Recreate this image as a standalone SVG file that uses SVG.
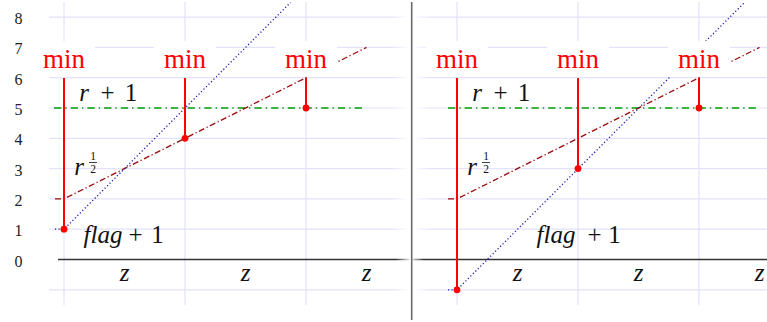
<svg xmlns="http://www.w3.org/2000/svg" width="767" height="322" viewBox="0 0 767 322">
<style>
.grid{stroke-width:1.2;fill:none}
.vg{stroke:#e2e2fb;stroke-width:1.2}
.ax{stroke-width:1.3;fill:none}
.red{stroke:#ff0000;stroke-width:2;fill:none}
.dot{fill:#ff0000}
.blue{stroke:#1a1ab8;stroke-width:1.3;stroke-dasharray:1.2 2.3;fill:none}
.dr{stroke:#9a0a0a;stroke-width:1.3;stroke-dasharray:6 2.5 1.3 2.5;fill:none}
.green{stroke:#00a000;stroke-width:1.3;stroke-dasharray:7.3 4 1.4 4;fill:none}
.box{fill:#ffffff}
.min{font-size:27px;fill:#ff0000;text-anchor:middle}
.num{font-size:16px;fill:#222;text-anchor:middle}
.m{font-size:25px;fill:#111;text-anchor:middle}
.mi{font-size:25px;font-style:italic;fill:#111;text-anchor:middle}
.fr{font-size:11.5px;fill:#111;text-anchor:middle}
</style>
<defs>
<linearGradient id="gl" gradientUnits="userSpaceOnUse" x1="49" y1="0" x2="410" y2="0">
<stop offset="0" stop-color="#e2e2fb"/><stop offset="0.95" stop-color="#e2e2fb"/><stop offset="1" stop-color="#e2e2fb" stop-opacity="0"/>
</linearGradient>
<linearGradient id="gr" gradientUnits="userSpaceOnUse" x1="413" y1="0" x2="767" y2="0">
<stop offset="0" stop-color="#e2e2fb" stop-opacity="0"/><stop offset="0.05" stop-color="#e2e2fb"/><stop offset="1" stop-color="#e2e2fb"/>
</linearGradient>
<linearGradient id="al" gradientUnits="userSpaceOnUse" x1="58" y1="0" x2="410" y2="0">
<stop offset="0" stop-color="#333"/><stop offset="0.96" stop-color="#333"/><stop offset="1" stop-color="#333" stop-opacity="0.1"/>
</linearGradient>
<linearGradient id="ar" gradientUnits="userSpaceOnUse" x1="413" y1="0" x2="767" y2="0">
<stop offset="0" stop-color="#333" stop-opacity="0.3"/><stop offset="0.03" stop-color="#333"/><stop offset="1" stop-color="#333"/>
</linearGradient>
</defs>
<rect width="767" height="322" fill="#ffffff"/>

<g id="grid">
<path class="grid" stroke="url(#gl)" d="M49 17.1H410M49 47.4H410M49 77.7H410M49 108H410M49 138.3H410M49 168.6H410M49 198.9H410M49 229.2H410M49 289.8H410"/>
<path class="grid" stroke="url(#gr)" d="M413 17.1H767M413 47.4H767M413 77.7H767M413 108H767M413 138.3H767M413 168.6H767M413 198.9H767M413 229.2H767M413 289.8H767"/>
<path class="vg" d="M64 2V305M185 2V305M306 2V305M457 2V305M578 2V305M699 2V305"/>
<path class="ax" stroke="url(#al)" d="M58 259.5H410"/>
<path class="ax" stroke="url(#ar)" d="M413 259.5H767"/>
<line x1="411.7" y1="2" x2="411.7" y2="320" stroke="#6a6a6a" stroke-width="1.6"/>
</g>

<g font-family="Liberation Serif, DejaVu Serif, serif">
<g id="yaxis-labels">
<text class="num" x="18.5" y="24">8</text>
<text class="num" x="18.5" y="54.4">7</text>
<text class="num" x="18.5" y="84.7">6</text>
<text class="num" x="18.5" y="115">5</text>
<text class="num" x="18.5" y="145.3">4</text>
<text class="num" x="18.5" y="175.6">3</text>
<text class="num" x="18.5" y="205.9">2</text>
<text class="num" x="18.5" y="236.2">1</text>
<text class="num" x="18.5" y="266.5">0</text>
</g>

<g id="connectors">
<path class="green" d="M54 108H365"/>
<path class="green" d="M448 108H757"/>
<path class="dr" d="M55 198.9H64L366.5 47.4"/>
<path class="dr" d="M448 198.9H457L759.5 47.4"/>
<path class="blue" d="M55 229.2H64L290.5 2.5"/>
<path class="blue" d="M448 289.8H457L744.5 2.5"/>
</g>

<g id="min-boxes">
<rect class="box" x="33" y="41" width="62" height="36"/>
<rect class="box" x="154" y="41" width="62" height="36"/>
<rect class="box" x="275" y="41" width="62" height="36"/>
<rect class="box" x="426" y="41" width="62" height="36"/>
<rect class="box" x="547" y="41" width="62" height="36"/>
<rect class="box" x="668" y="41" width="62" height="36"/>
</g>

<g id="node-min-l1"><text class="min" x="64" y="68">min</text><path class="red" d="M64 78V229.2"/><circle class="dot" cx="64" cy="229.2" r="3.4"/></g>
<g id="node-min-l2"><text class="min" x="185" y="68">min</text><path class="red" d="M185 78V138.3"/><circle class="dot" cx="185" cy="138.3" r="3.4"/></g>
<g id="node-min-l3"><text class="min" x="306" y="68">min</text><path class="red" d="M306 78V108"/><circle class="dot" cx="306" cy="108" r="3.4"/></g>
<g id="node-min-r1"><text class="min" x="457" y="68">min</text><path class="red" d="M457 78V289.8"/><circle class="dot" cx="457" cy="289.8" r="3.4"/></g>
<g id="node-min-r2"><text class="min" x="578" y="68">min</text><path class="red" d="M578 78V168.6"/><circle class="dot" cx="578" cy="168.6" r="3.4"/></g>
<g id="node-min-r3"><text class="min" x="699" y="68">min</text><path class="red" d="M699 78V108"/><circle class="dot" cx="699" cy="108" r="3.4"/></g>

<g id="label-r1-left"><text class="mi" x="84" y="101">r</text><text class="m" x="107.5" y="101">+</text><text class="m" x="131" y="101">1</text></g>
<g id="label-r1-right"><text class="mi" x="477" y="101">r</text><text class="m" x="500.5" y="101">+</text><text class="m" x="524" y="101">1</text></g>

<g id="label-sqrt-left"><text class="mi" x="79" y="175">r</text><text class="fr"><tspan x="93" y="159.5">1</tspan><tspan x="93" y="172.5">2</tspan></text><line x1="89" y1="162.5" x2="97" y2="162.5" stroke="#111" stroke-width="0.8"/></g>
<g id="label-sqrt-right"><text class="mi" x="472" y="175">r</text><text class="fr"><tspan x="486" y="159.5">1</tspan><tspan x="486" y="172.5">2</tspan></text><line x1="482" y1="162.5" x2="490" y2="162.5" stroke="#111" stroke-width="0.8"/></g>

<g id="label-flag-left"><text class="mi" x="103" y="243">flag</text><text class="m" x="135.5" y="243">+</text><text class="m" x="157.5" y="243">1</text></g>
<g id="label-flag-right"><text class="mi" x="556" y="243">flag</text><text class="m" x="594.5" y="243">+</text><text class="m" x="614.5" y="243">1</text></g>

<g id="z-labels">
<text class="mi" x="124.5" y="281">z</text>
<text class="mi" x="245.5" y="281">z</text>
<text class="mi" x="366.5" y="281">z</text>
<text class="mi" x="517.5" y="281">z</text>
<text class="mi" x="638.5" y="281">z</text>
<text class="mi" x="759.5" y="281">z</text>
</g>
</g>
</svg>
